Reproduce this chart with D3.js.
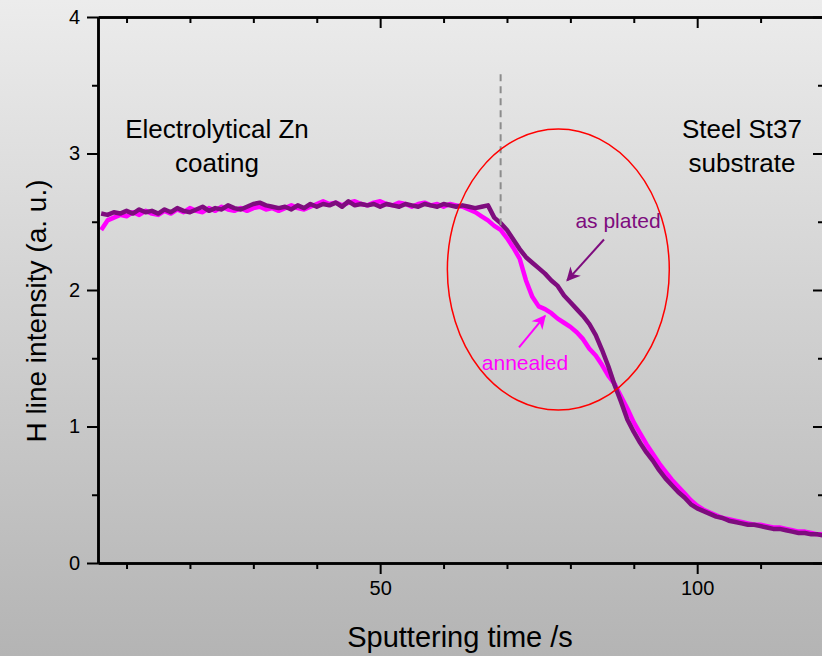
<!DOCTYPE html>
<html>
<head>
<meta charset="utf-8">
<script src="https://cdn.jsdelivr.net/npm/d3@7"></script>
<style>
  html, body { margin: 0; padding: 0; }
  body { width: 822px; height: 656px; overflow: hidden; }
  svg { display: block; font-family: "Liberation Sans", Arial, Helvetica, sans-serif; }
</style>
</head>
<body>
<div id="chart"></div>
<script>
// sputtering time (s), 1 s steps
const times = d3.range(6, 121);

// as plated (dark purple)
const asPlated = [
  2.56, 2.55, 2.57, 2.56, 2.58, 2.56, 2.59, 2.57, 2.58, 2.56,
  2.59, 2.57, 2.60, 2.58, 2.57, 2.59, 2.61, 2.58, 2.60, 2.59,
  2.62, 2.60, 2.59, 2.61, 2.63, 2.64, 2.62, 2.61, 2.60, 2.61,
  2.59, 2.62, 2.60, 2.63, 2.61, 2.63, 2.62, 2.64, 2.61, 2.65,
  2.62, 2.63, 2.62, 2.63, 2.61, 2.63, 2.62, 2.61, 2.63, 2.62,
  2.61, 2.63, 2.62, 2.61, 2.63, 2.62, 2.61, 2.62, 2.61, 2.60,
  2.61, 2.62, 2.53, 2.49, 2.44, 2.37, 2.30, 2.24, 2.20, 2.16,
  2.12, 2.07, 2.03, 1.96, 1.91, 1.86, 1.81, 1.75, 1.67, 1.56,
  1.44, 1.30, 1.18, 1.05, 0.96, 0.88, 0.81, 0.75, 0.68, 0.62,
  0.57, 0.52, 0.48, 0.43, 0.40, 0.38, 0.36, 0.34, 0.33, 0.31,
  0.30, 0.29, 0.28, 0.28, 0.27, 0.26, 0.25, 0.25, 0.24, 0.23,
  0.22, 0.22, 0.21, 0.21, 0.20
];

// annealed (magenta)
const annealed = [
  2.44, 2.51, 2.53, 2.55, 2.54, 2.57, 2.55, 2.58, 2.56, 2.55,
  2.58, 2.56, 2.59, 2.57, 2.60, 2.58, 2.57, 2.60, 2.58, 2.61,
  2.59, 2.58, 2.60, 2.58, 2.60, 2.61, 2.59, 2.60, 2.58, 2.60,
  2.62, 2.60, 2.59, 2.61, 2.63, 2.65, 2.63, 2.64, 2.62, 2.64,
  2.65, 2.63, 2.62, 2.64, 2.65, 2.63, 2.62, 2.64, 2.63, 2.61,
  2.63, 2.64, 2.62, 2.63, 2.61, 2.63, 2.62, 2.61, 2.59, 2.57,
  2.54, 2.51, 2.47, 2.44, 2.38, 2.31, 2.23, 2.07, 1.95, 1.88,
  1.86, 1.83, 1.79, 1.76, 1.73, 1.69, 1.64, 1.57, 1.52, 1.45,
  1.37, 1.31, 1.22, 1.13, 1.03, 0.95, 0.87, 0.80, 0.73, 0.67,
  0.61, 0.56, 0.51, 0.46, 0.42, 0.39, 0.37, 0.35, 0.33, 0.32,
  0.31, 0.30, 0.29, 0.28, 0.28, 0.27, 0.26, 0.26, 0.25, 0.24,
  0.23, 0.23, 0.22, 0.21, 0.21
];

const xMajor = [50, 100];
const xMinor = [10, 20, 30, 40, 60, 70, 80, 90, 110];
const yMajor = [0, 1, 2, 3, 4];
const yMinor = [0.5, 1.5, 2.5, 3.5];

const width = 822, height = 656;
const plotLeft = 98, plotRight = 824, plotTop = 17, plotBottom = 563;

const svg = d3.select('#chart').append('svg')
  .attr('width', width)
  .attr('height', height);

// background gradient
const defs = svg.append('defs');
const grad = defs.append('linearGradient')
  .attr('id', 'bg').attr('x1', 0).attr('y1', 0).attr('x2', 0).attr('y2', 1);
grad.append('stop').attr('offset', '0%').attr('stop-color', '#ececec');
grad.append('stop').attr('offset', '100%').attr('stop-color', '#b4b4b4');
svg.append('rect').attr('width', width).attr('height', height).attr('fill', 'url(#bg)');

const x = d3.scaleLinear().domain([5.5, 120]).range([plotLeft, plotRight]);
const y = d3.scaleLinear().domain([0, 4]).range([plotBottom, plotTop]);

const line = d3.line()
  .x((d, i) => x(times[i]))
  .y(d => y(d));

svg.append('path')
  .datum(annealed)
  .attr('fill', 'none')
  .attr('stroke', '#ff00ff')
  .attr('stroke-width', 4.5)
  .attr('stroke-linejoin', 'round')
  .attr('d', line);

svg.append('path')
  .datum(asPlated)
  .attr('fill', 'none')
  .attr('stroke', '#7e0c7e')
  .attr('stroke-width', 4.5)
  .attr('stroke-linejoin', 'round')
  .attr('d', line);

// axes
const tickStyle = g => {
  g.select('.domain').attr('stroke-width', 2.5);
  g.selectAll('.tick line').attr('stroke-width', 2);
  g.selectAll('text').attr('font-size', 20).attr('fill', '#000')
    .attr('font-family', '"Liberation Sans", Arial, sans-serif');
};

svg.append('g')
  .attr('transform', `translate(0,${plotBottom})`)
  .call(d3.axisBottom(x).tickValues(xMajor).tickSize(11).tickPadding(7).tickSizeOuter(0))
  .call(tickStyle);
svg.append('g')
  .attr('transform', `translate(0,${plotBottom})`)
  .call(d3.axisBottom(x).tickValues(xMinor).tickSize(6).tickFormat('').tickSizeOuter(0))
  .call(tickStyle);

svg.append('g')
  .attr('transform', `translate(0,${plotTop})`)
  .call(d3.axisTop(x).tickValues(xMajor).tickSize(-11).tickFormat('').tickSizeOuter(0))
  .call(tickStyle);
svg.append('g')
  .attr('transform', `translate(0,${plotTop})`)
  .call(d3.axisTop(x).tickValues(xMinor).tickSize(-6).tickFormat('').tickSizeOuter(0))
  .call(tickStyle);

svg.append('g')
  .attr('transform', `translate(${plotLeft},0)`)
  .call(d3.axisLeft(y).tickValues(yMajor).tickFormat(d3.format('d')).tickSize(11).tickPadding(7).tickSizeOuter(0))
  .call(tickStyle);
svg.append('g')
  .attr('transform', `translate(${plotLeft},0)`)
  .call(d3.axisLeft(y).tickValues(yMinor).tickSize(6).tickFormat('').tickSizeOuter(0))
  .call(tickStyle);

svg.append('g')
  .attr('transform', `translate(${plotRight},0)`)
  .call(d3.axisRight(y).tickValues(yMajor).tickSize(-11).tickFormat('').tickSizeOuter(0))
  .call(tickStyle);
svg.append('g')
  .attr('transform', `translate(${plotRight},0)`)
  .call(d3.axisRight(y).tickValues(yMinor).tickSize(-6).tickFormat('').tickSizeOuter(0))
  .call(tickStyle);

// axis titles
svg.append('text')
  .attr('x', 460).attr('y', 647)
  .attr('text-anchor', 'middle')
  .attr('font-size', 29)
  .text('Sputtering time /s');

svg.append('text')
  .attr('transform', 'translate(46,311) rotate(-90)')
  .attr('text-anchor', 'middle')
  .attr('font-size', 28)
  .text('H line intensity (a. u.)');

// region labels
const regionText = (cx, lines) => {
  const t = svg.append('text').attr('text-anchor', 'middle').attr('font-size', 26);
  lines.forEach((s, i) => t.append('tspan').attr('x', cx).attr('y', 138 + i * 34).text(s));
};
regionText(217, ['Electrolytical Zn', 'coating']);
regionText(742, ['Steel St37', 'substrate']);

// dashed interface marker
svg.append('line')
  .attr('x1', x(69)).attr('x2', x(69))
  .attr('y1', y(3.58)).attr('y2', y(2.47))
  .attr('stroke', '#8c8c8c')
  .attr('stroke-width', 2)
  .attr('stroke-dasharray', '7,5');

// red ellipse
const ec = [78.1, 2.15], er = [17.5, 1.03];
svg.append('ellipse')
  .attr('cx', x(ec[0])).attr('cy', y(ec[1]))
  .attr('rx', x(ec[0] + er[0]) - x(ec[0]))
  .attr('ry', y(ec[1] - er[1]) - y(ec[1]))
  .attr('fill', 'none')
  .attr('stroke', '#ff0000')
  .attr('stroke-width', 1.5);

// arrows
[['purple', '#7e0c7e'], ['magenta', '#ff00ff']].forEach(([id, c]) => {
  defs.append('marker')
    .attr('id', 'arrow-' + id)
    .attr('viewBox', '0 0 10 10')
    .attr('refX', 9).attr('refY', 5)
    .attr('markerWidth', 16).attr('markerHeight', 14)
    .attr('markerUnits', 'userSpaceOnUse')
    .attr('orient', 'auto')
    .append('path')
    .attr('d', 'M0,0 L10,5 L0,10 L3,5 Z')
    .attr('fill', c);
});

svg.append('line')
  .attr('x1', x(85.3)).attr('y1', y(2.37))
  .attr('x2', x(79.5)).attr('y2', y(2.07))
  .attr('stroke', '#7e0c7e').attr('stroke-width', 2)
  .attr('marker-end', 'url(#arrow-purple)');

svg.append('line')
  .attr('x1', x(71.9)).attr('y1', y(1.58))
  .attr('x2', x(76.0)).attr('y2', y(1.81))
  .attr('stroke', '#ff00ff').attr('stroke-width', 2)
  .attr('marker-end', 'url(#arrow-magenta)');

svg.append('text')
  .attr('x', 618).attr('y', 228)
  .attr('text-anchor', 'middle')
  .attr('font-size', 21)
  .attr('fill', '#7e0c7e')
  .text('as plated');

svg.append('text')
  .attr('x', 525).attr('y', 370)
  .attr('text-anchor', 'middle')
  .attr('font-size', 21)
  .attr('fill', '#ff00ff')
  .text('annealed');
</script>
</body>
</html>
